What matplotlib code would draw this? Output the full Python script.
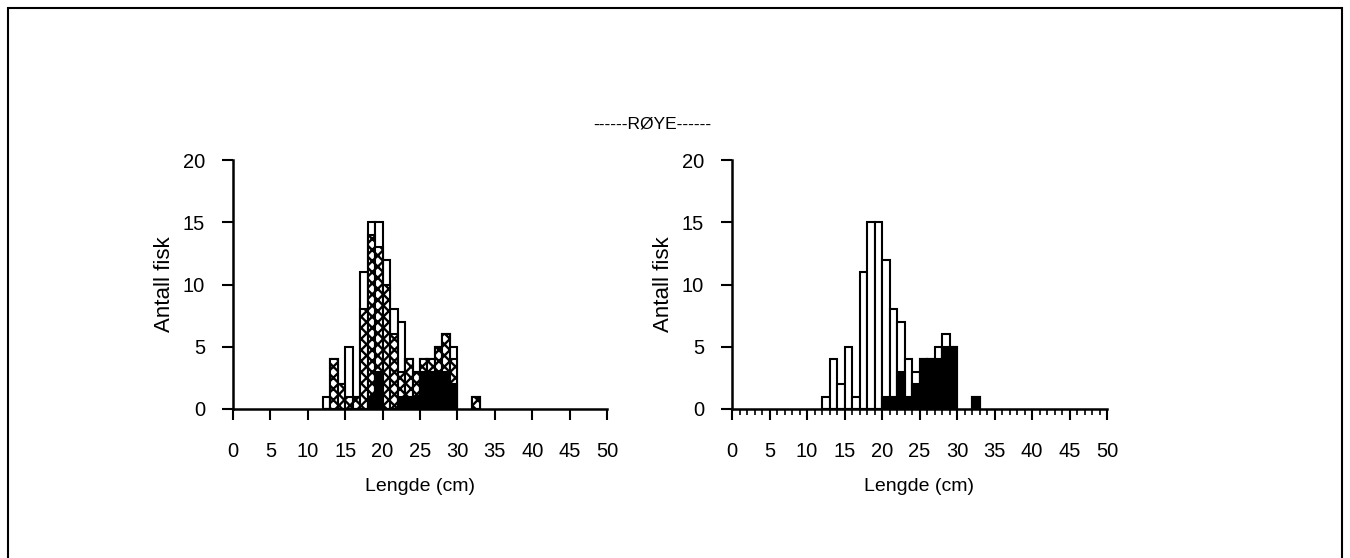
import matplotlib
matplotlib.use('Agg')
import matplotlib.pyplot as plt
from matplotlib.patches import Rectangle
from matplotlib.ticker import MultipleLocator

plt.rcParams['font.family'] = ['Liberation Sans', 'DejaVu Sans']
plt.rcParams['hatch.linewidth'] = 1.7

# length classes (cm), lower edge of each 1 cm bin
lengths = [12, 13, 14, 15, 16, 17, 18, 19, 20, 21, 22, 23, 24, 25, 26, 27, 28, 29, 32]

# total number of fish (open bars, same in both panels)
total = [1, 4, 2, 5, 1, 11, 15, 15, 12, 8, 7, 4, 3, 4, 4, 5, 6, 5, 1]

# left panel: cross-hatched and black groups
left_hatched = [0, 4, 2, 1, 1, 8, 14, 13, 10, 6, 3, 4, 3, 4, 4, 5, 6, 4, 1]
left_black = [0, 0, 0, 0, 0, 0, 1, 3, 0, 0, 1, 1, 1, 3, 3, 3, 3, 2, 0]

# right panel: black group
right_black = [0, 0, 0, 0, 0, 0, 0, 0, 1, 1, 3, 1, 2, 4, 4, 4, 5, 5, 1]

W, H = 1350, 558
fig = plt.figure(figsize=(W / 100, H / 100), dpi=100)

# outer frame
fig.patches.append(Rectangle((8 / W, -0.02), (1342 - 8) / W, 1 - 8 / H + 0.02,
                             transform=fig.transFigure, fill=False,
                             edgecolor='black', linewidth=1.5))

fig.text(652 / W, 1 - 124 / H, '------RØYE------', ha='center', va='center',
         fontsize=12.5)


def setup(ax, minor):
    ax.set_xlim(0, 50)
    ax.set_ylim(0, 20)
    for s in ['top', 'right']:
        ax.spines[s].set_visible(False)
    for s in ['left', 'bottom']:
        ax.spines[s].set_linewidth(1.8)
    ax.set_xticks(range(0, 51, 5))
    ax.set_yticks(range(0, 21, 5))
    ax.tick_params(direction='out', length=8, width=1.5, labelsize=14.5)
    ax.tick_params(axis='x', pad=16)
    ax.tick_params(axis='y', pad=12)
    if minor:
        ax.xaxis.set_minor_locator(MultipleLocator(1))
        ax.tick_params(axis='x', which='minor', direction='out', length=4,
                       width=1.2)
    ax.set_xlabel('Lengde (cm)', fontsize=14, labelpad=12)
    ax.set_ylabel('Antall fisk', fontsize=16, labelpad=6)


ax1 = fig.add_axes([233 / W, 1 - 409 / H, 374 / W, 249 / H])
ax1.bar(lengths, total, width=1, align='edge', color='white',
        edgecolor='black', linewidth=1.5, zorder=2)
ax1.bar(lengths, left_hatched, width=1, align='edge', color='white',
        edgecolor='black', hatch='xxx', linewidth=1.5, zorder=3)
ax1.bar(lengths, left_black, width=1, align='edge', color='black',
        edgecolor='black', linewidth=1.5, zorder=4)
setup(ax1, False)

ax2 = fig.add_axes([732 / W, 1 - 409 / H, 375 / W, 249 / H])
ax2.bar(lengths, total, width=1, align='edge', color='white',
        edgecolor='black', linewidth=1.5, zorder=2)
ax2.bar(lengths, right_black, width=1, align='edge', color='black',
        edgecolor='black', linewidth=1.5, zorder=4)
setup(ax2, True)

fig.savefig('out.png', dpi=100)
